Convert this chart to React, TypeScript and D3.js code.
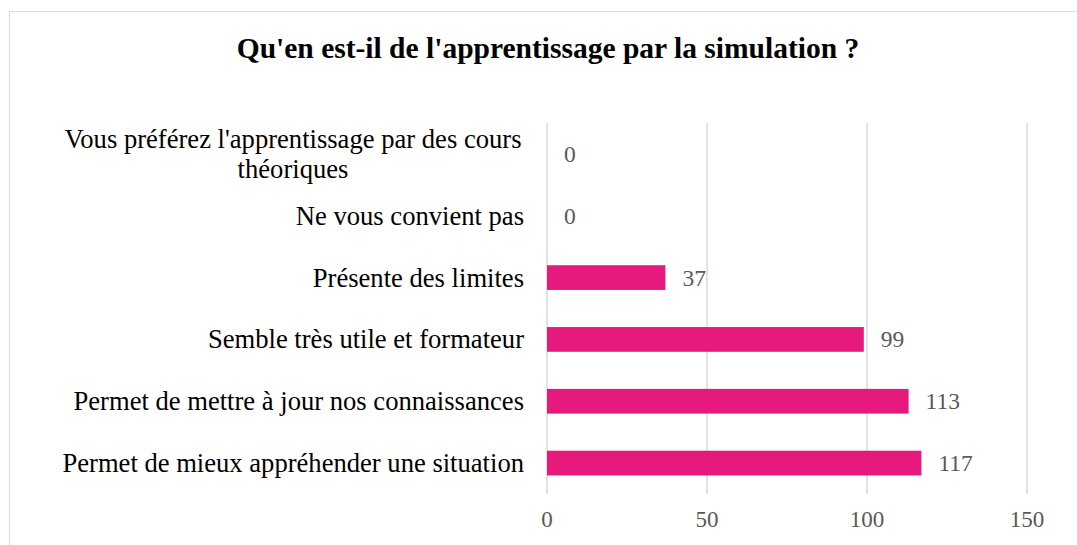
import React from "react";
import * as d3 from "d3";

const categories: string[][] = [
  ["Vous préférez l'apprentissage par des cours", "théoriques"],
  ["Ne vous convient pas"],
  ["Présente des limites"],
  ["Semble très utile et formateur"],
  ["Permet de mettre à jour nos connaissances"],
  ["Permet de mieux appréhender une situation"],
];
const values: number[] = [0, 0, 37, 99, 113, 117];
const ticks: number[] = [0, 50, 100, 150];
const title = "Qu'en est-il de l'apprentissage par la simulation ?";

export default function App() {
  const W = 1077, H = 545;
  const x = d3.scaleLinear().domain([0, 150]).range([547, 1027]);
  const y = d3.scaleBand<number>().domain(d3.range(categories.length)).range([123, 494]).paddingInner(0.6).paddingOuter(0.3);
  const font = "'Liberation Serif', 'Times New Roman', serif";
  const LFS = 26.6;
  return (
    <svg width={W} height={H} style={{ position: "absolute", left: 0, top: 0 }} fontFamily={font}>
      <rect x={0} y={0} width={W} height={H} fill="#fff" />
      <rect x={9.5} y={11.5} width={W + 10} height={H + 10} fill="none" stroke="#d9d9d9" strokeWidth={1} />
      <text x={548} y={58} textAnchor="middle" fontSize={29.5} fontWeight="bold" fill="#000">{title}</text>
      {ticks.map((t) => (
        <g key={t}>
          <line x1={x(t)} x2={x(t)} y1={123} y2={494} stroke="#d9d9d9" strokeWidth={1.5} />
          <text x={x(t)} y={527} textAnchor="middle" fontSize={23} fill="#595959">{t}</text>
        </g>
      ))}
      {values.map((v, i) => {
        const by = y(i)!;
        const bh = y.bandwidth();
        const cy = by + bh / 2;
        const lines = categories[i];
        return (
          <g key={i}>
            {v > 0 && <rect x={x(0)} y={by} width={x(v) - x(0)} height={bh} fill="#E6197D" />}
            <text x={x(v) + 17} y={cy + 8} fontSize={23.5} fill="#595959">{v}</text>
            {lines.length === 1 ? (
              <text x={524} y={cy + 9} textAnchor="end" fontSize={LFS} fill="#000">{lines[0]}</text>
            ) : (
              <>
                <text x={293} y={cy - 6} textAnchor="middle" fontSize={LFS} fill="#000">{lines[0]}</text>
                <text x={293} y={cy + 24} textAnchor="middle" fontSize={LFS} fill="#000">{lines[1]}</text>
              </>
            )}
          </g>
        );
      })}
    </svg>
  );
}
